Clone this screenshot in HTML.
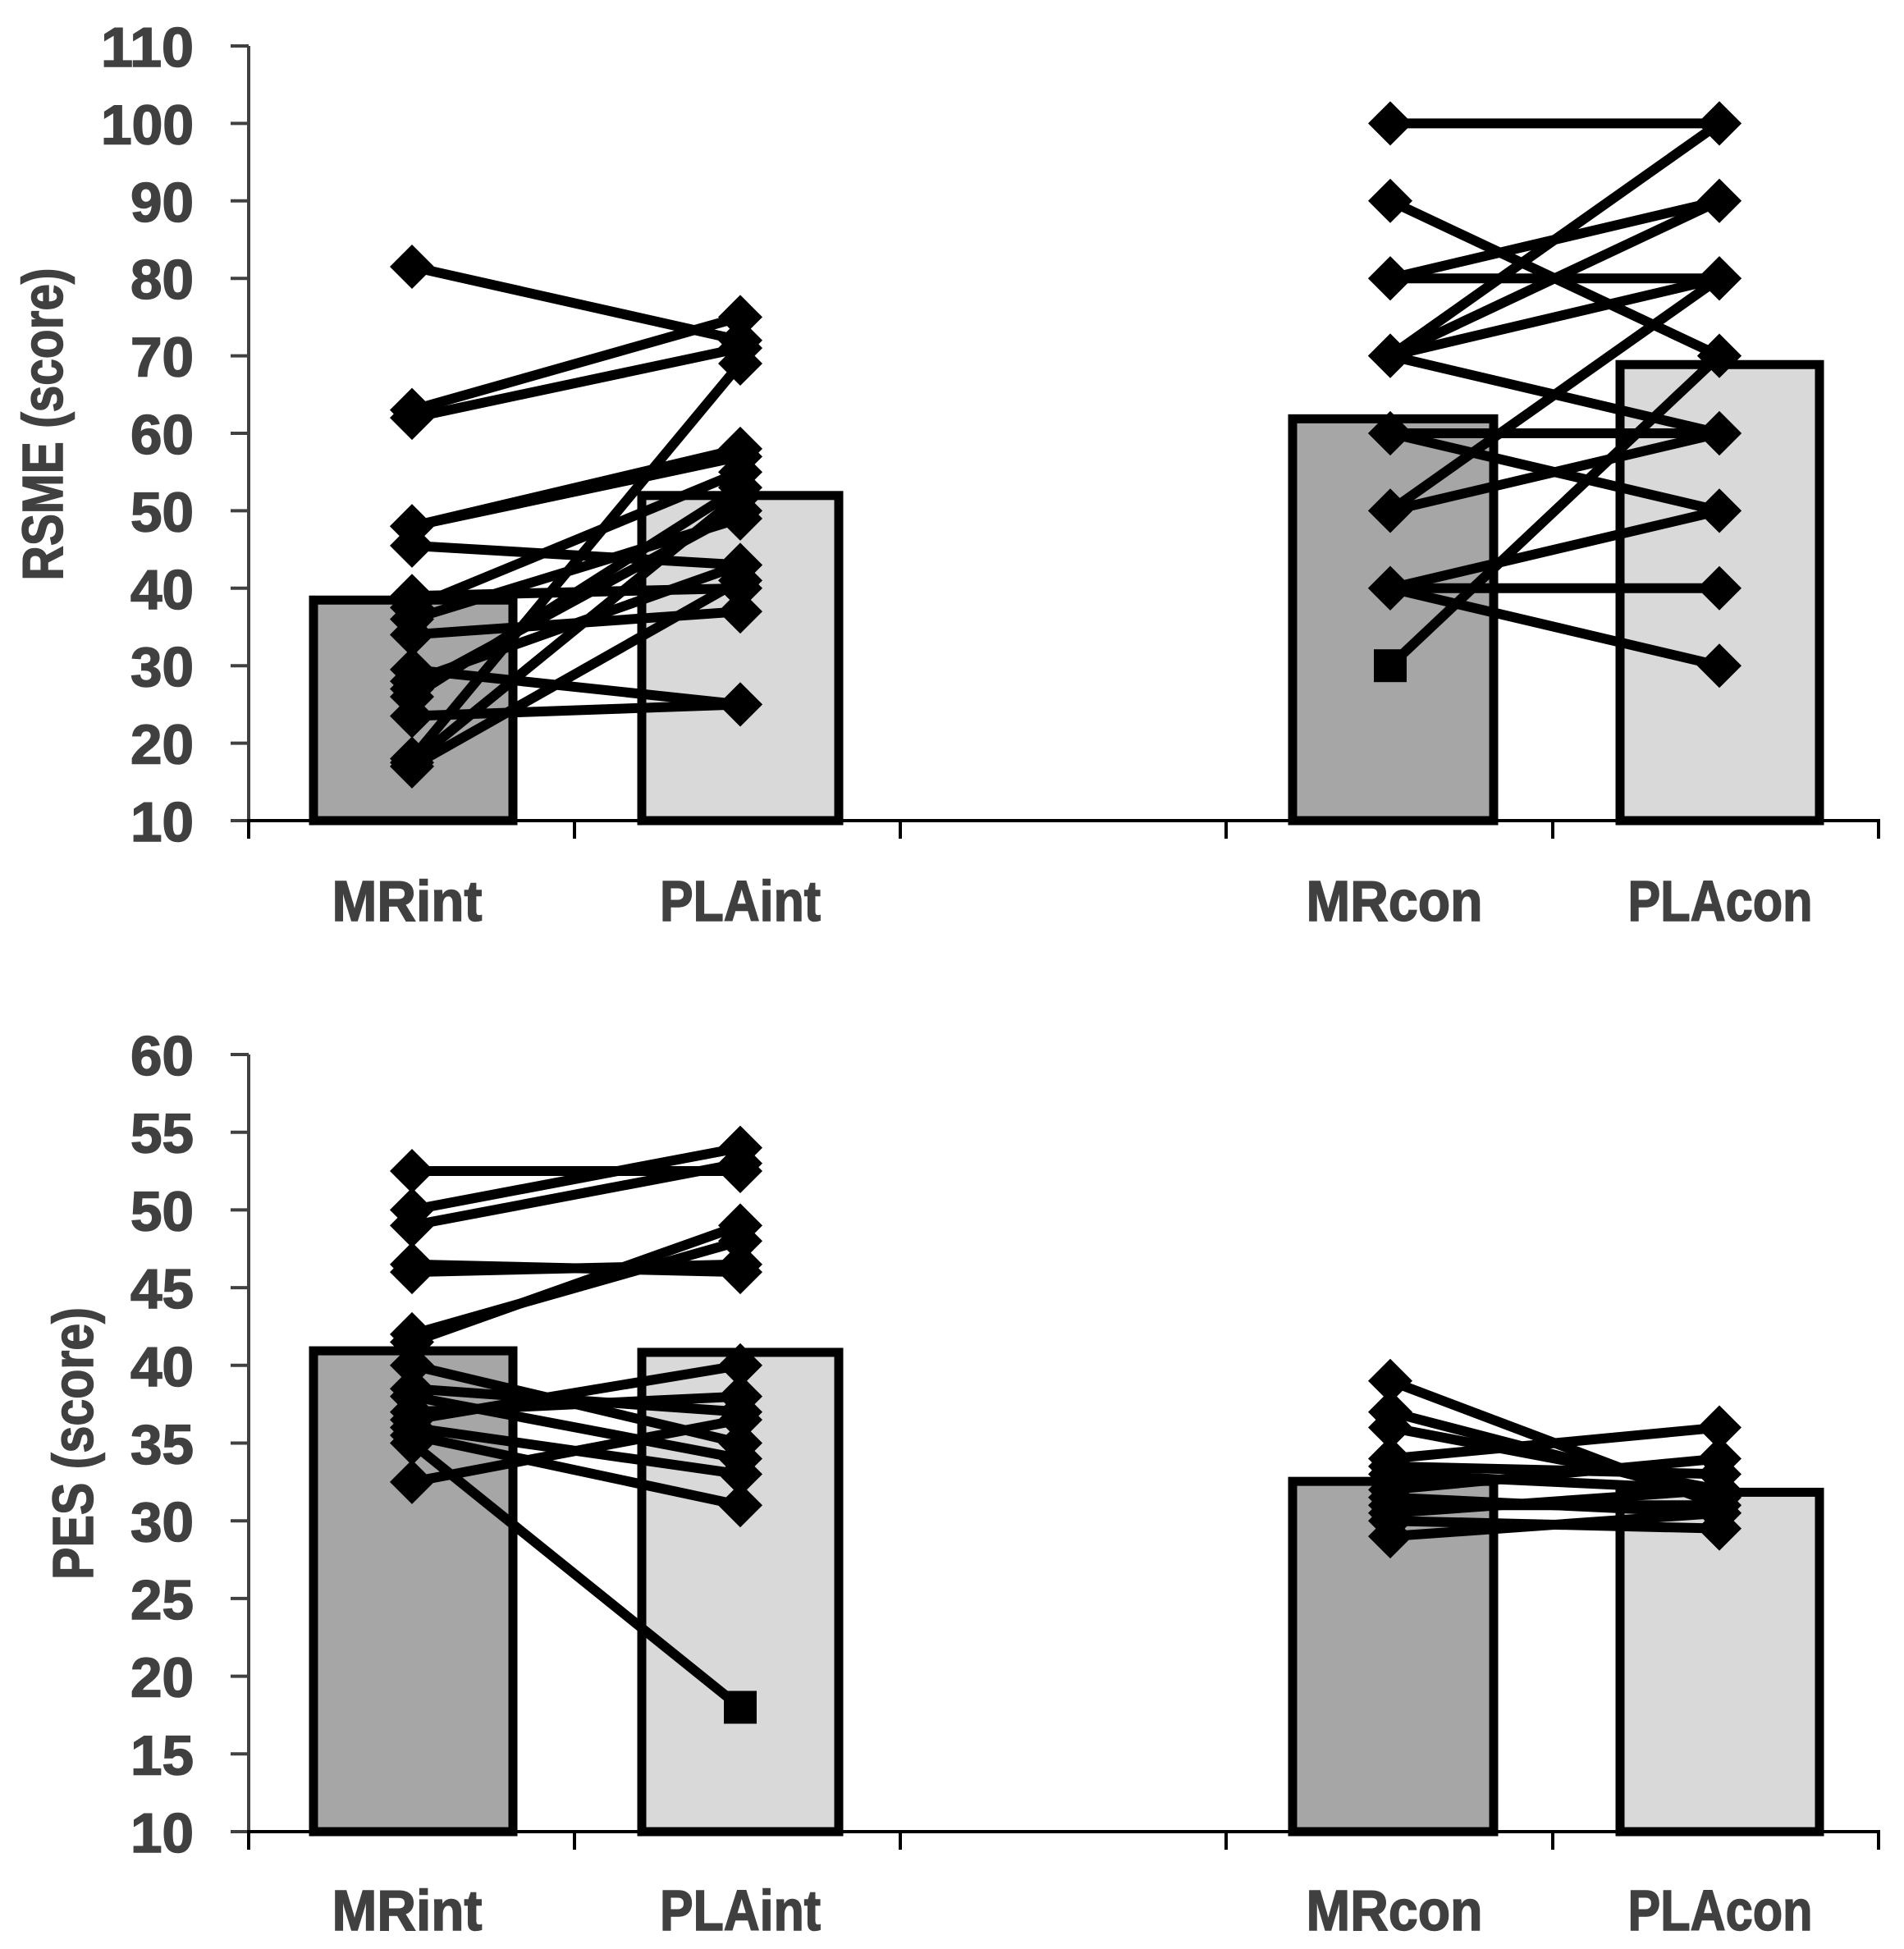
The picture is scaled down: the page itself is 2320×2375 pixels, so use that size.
<!DOCTYPE html>
<html><head><meta charset="utf-8"><style>
html,body{margin:0;padding:0;background:#fff;}
svg{display:block}
text{font-family:"Liberation Sans",sans-serif;font-weight:bold;fill:#404040;stroke:#404040;stroke-width:1.5}
</style></head><body>
<svg id="s" width="2320" height="2375" viewBox="0 0 2320 2375" xmlns="http://www.w3.org/2000/svg"></svg>
<script>
const S=document.getElementById('s');let h='';
const ticksX=[303,700,1097,1494,1892,2289];
const XM=[502,902,1694,2095];
function chart(o){
 const Y=v=>o.base-(v-o.min)*o.ppu;
 h+=`<line x1="303" y1="${Y(o.max)}" x2="303" y2="${o.base}" stroke="#404040" stroke-width="4"/>`;
 for(let v=o.min;v<=o.max;v+=o.step){const y=Y(v);
  h+=`<line x1="281" y1="${y}" x2="303" y2="${y}" stroke="#404040" stroke-width="4"/>`;
  h+=`<text x="236" y="${y+25}" font-size="68" text-anchor="end" textLength="${String(v).length==3?113:77}" lengthAdjust="spacingAndGlyphs">${v}</text>`;}
 h+=`<line x1="301" y1="${o.base}" x2="2291" y2="${o.base}" stroke="#000" stroke-width="4"/>`;
 ticksX.forEach(x=>h+=`<line x1="${x}" y1="${o.base}" x2="${x}" y2="${o.base+22}" stroke="#000" stroke-width="4"/>`);
 const bx=[[377,630],[777,1027],[1570,1825],[1969,2222]];const fills=['#a6a6a6','#d9d9d9','#a6a6a6','#d9d9d9'];
 o.bars.forEach((v,i)=>{const y=Y(v);h+=`<rect x="${bx[i][0]+5}" y="${y+5}" width="${bx[i][1]-bx[i][0]-10}" height="${o.base-y-5}" fill="${fills[i]}" stroke="#000" stroke-width="11"/>`;});
 const mk=(x,y)=>`<polygon points="${x-27},${y} ${x},${y-27} ${x+27},${y} ${x},${y+27}" fill="#000"/>`;
 [[o.int,0],[o.con,2]].forEach(([pairs,k])=>{pairs.forEach(p=>{const x1=XM[k],x2=XM[k+1],y1=Y(p[0]),y2=Y(p[1]);
  h+=`<line x1="${x1}" y1="${y1}" x2="${x2}" y2="${y2}" stroke="#000" stroke-width="12"/>`;
  h+=(p[2]==1?`<rect x="${x1-20}" y="${y1-20}" width="40" height="40" fill="#000"/>`:mk(x1,y1));
  h+=(p[2]==2?`<rect x="${x2-20}" y="${y2-20}" width="40" height="40" fill="#000"/>`:mk(x2,y2));});});
 const labs=[['MRint',496,183],['PLAint',902,196],['MRcon',1699,215],['PLAcon',2096,225]];
 labs.forEach(l=>h+=`<text x="${l[1]}" y="${o.lab}" font-size="70" text-anchor="middle" textLength="${l[2]}" lengthAdjust="spacingAndGlyphs">${l[0]}</text>`);
 h+=`<text transform="translate(${o.tx},${o.ty}) rotate(-90)" x="0" y="0" font-size="70" text-anchor="middle" textLength="${o.tl}" lengthAdjust="spacingAndGlyphs">${o.title}</text>`;
}
chart({min:10,max:110,step:10,base:1000,ppu:9.44,bars:[39,52.5,62.4,69.4],lab:1122,tx:76,ty:517,tl:381,title:'RSME (score)',
 int:[[81.5,72],[63,75],[62,71],[48,58],[48,57],[45.5,43],[39,40],[37.5,55],[36,49],[34,37],[29.5,25],[28,43],[27,50],[23.5,25],[18,69],[17,41],[17.5,52],[26,53]],
 con:[[100,100],[90,70,0],[80,90],[80,80],[70,100],[70,90],[70,80],[70,60],[60,60],[60,50],[50,80],[50,60],[30,70,1],[40,50],[40,40],[40,30]]});
chart({min:10,max:60,step:5,base:2232,ppu:18.94,bars:[41.2,41.1,32.8,32.1],lab:2352,tx:113,ty:1759,tl:332,title:'PES (score)',
 int:[[52.5,52.5],[50,54],[49,53],[46.5,46],[46,46.5],[42,48],[41.5,49],[40,35],[38.5,37],[37,38],[36.5,40],[36,33],[35.5,31],[35,18,2],[32.5,36.5],[38,34]],
 con:[[39,31],[37,31.5],[36,32],[34,36],[33.5,33],[33,32],[32,34],[31.5,30.5],[31,31],[30.5,32],[30,29.5],[29,30.5]]});
S.innerHTML=h;
</script>
</body></html>
